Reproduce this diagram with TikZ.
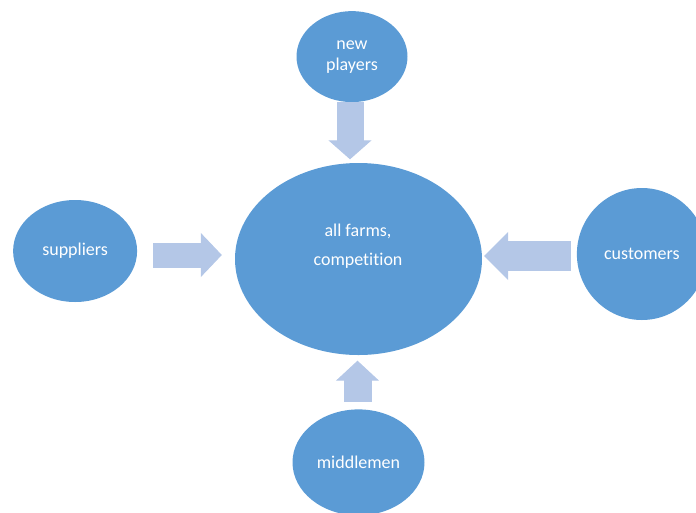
\documentclass[tikz,border=0pt]{standalone}
\usepackage{fontspec}
\setmainfont{Carlito}[Ligatures={NoCommon}]
\usetikzlibrary{positioning,shapes.geometric,arrows.meta}
\definecolor{bubble}{RGB}{91,155,213}
\definecolor{pale}{RGB}{180,199,231}
\tikzset{
bubble/.style={ellipse,fill=bubble,inner sep=0pt,text=white,align=center,font=\fontsize{18}{21}\selectfont},
push/.style n args={3}{draw=pale,line width=#1,-{Triangle[width=#2,length=#3,line width=1pt]}},
}

\begin{document}
\begin{tikzpicture}[x=1pt,y=-1pt]
\clip (0,0) rectangle (696,512);
\node[bubble,minimum width=247pt,minimum height=192pt](core) at (358.5,259){};
\node[text=white,align=center,font=\fontsize{18}{21}\selectfont](coretext) at (358,246){all farms,\\[8pt]competition};
\node[bubble,minimum width=111pt,minimum height=91pt,above=60.5pt of core,xshift=-6.5pt](np){new\\players};
\node[bubble,minimum width=124pt,minimum height=102pt,left=97.5pt of core,yshift=8pt](sup){suppliers};
\node[bubble,minimum width=130pt,minimum height=132pt,right=94.5pt of core,yshift=5pt](cus){customers};
\node[bubble,minimum width=132pt,minimum height=106pt,below=54pt of core](mid){middlemen};
\draw[push={27pt}{43pt}{19pt},shorten >=3.5pt]([xshift=-2pt]np.south)--([xshift=-2pt]np.south |- core.north);
\draw[push={25pt}{44pt}{21pt},shorten <=16pt,shorten >=13pt]([yshift=-4pt]sup.east)--([yshift=-4pt]sup.east -| core.west);
\draw[push={30pt}{48pt}{24pt},shorten <=6pt,shorten >=2pt]([yshift=-2pt]cus.west)--([yshift=-2pt]cus.west -| core.east);
\draw[push={28pt}{43pt}{20pt},shorten <=7pt,shorten >=5.5pt]([xshift=-1pt]mid.north)--([xshift=-1pt]mid.north |- core.south);
\end{tikzpicture}
\end{document}
